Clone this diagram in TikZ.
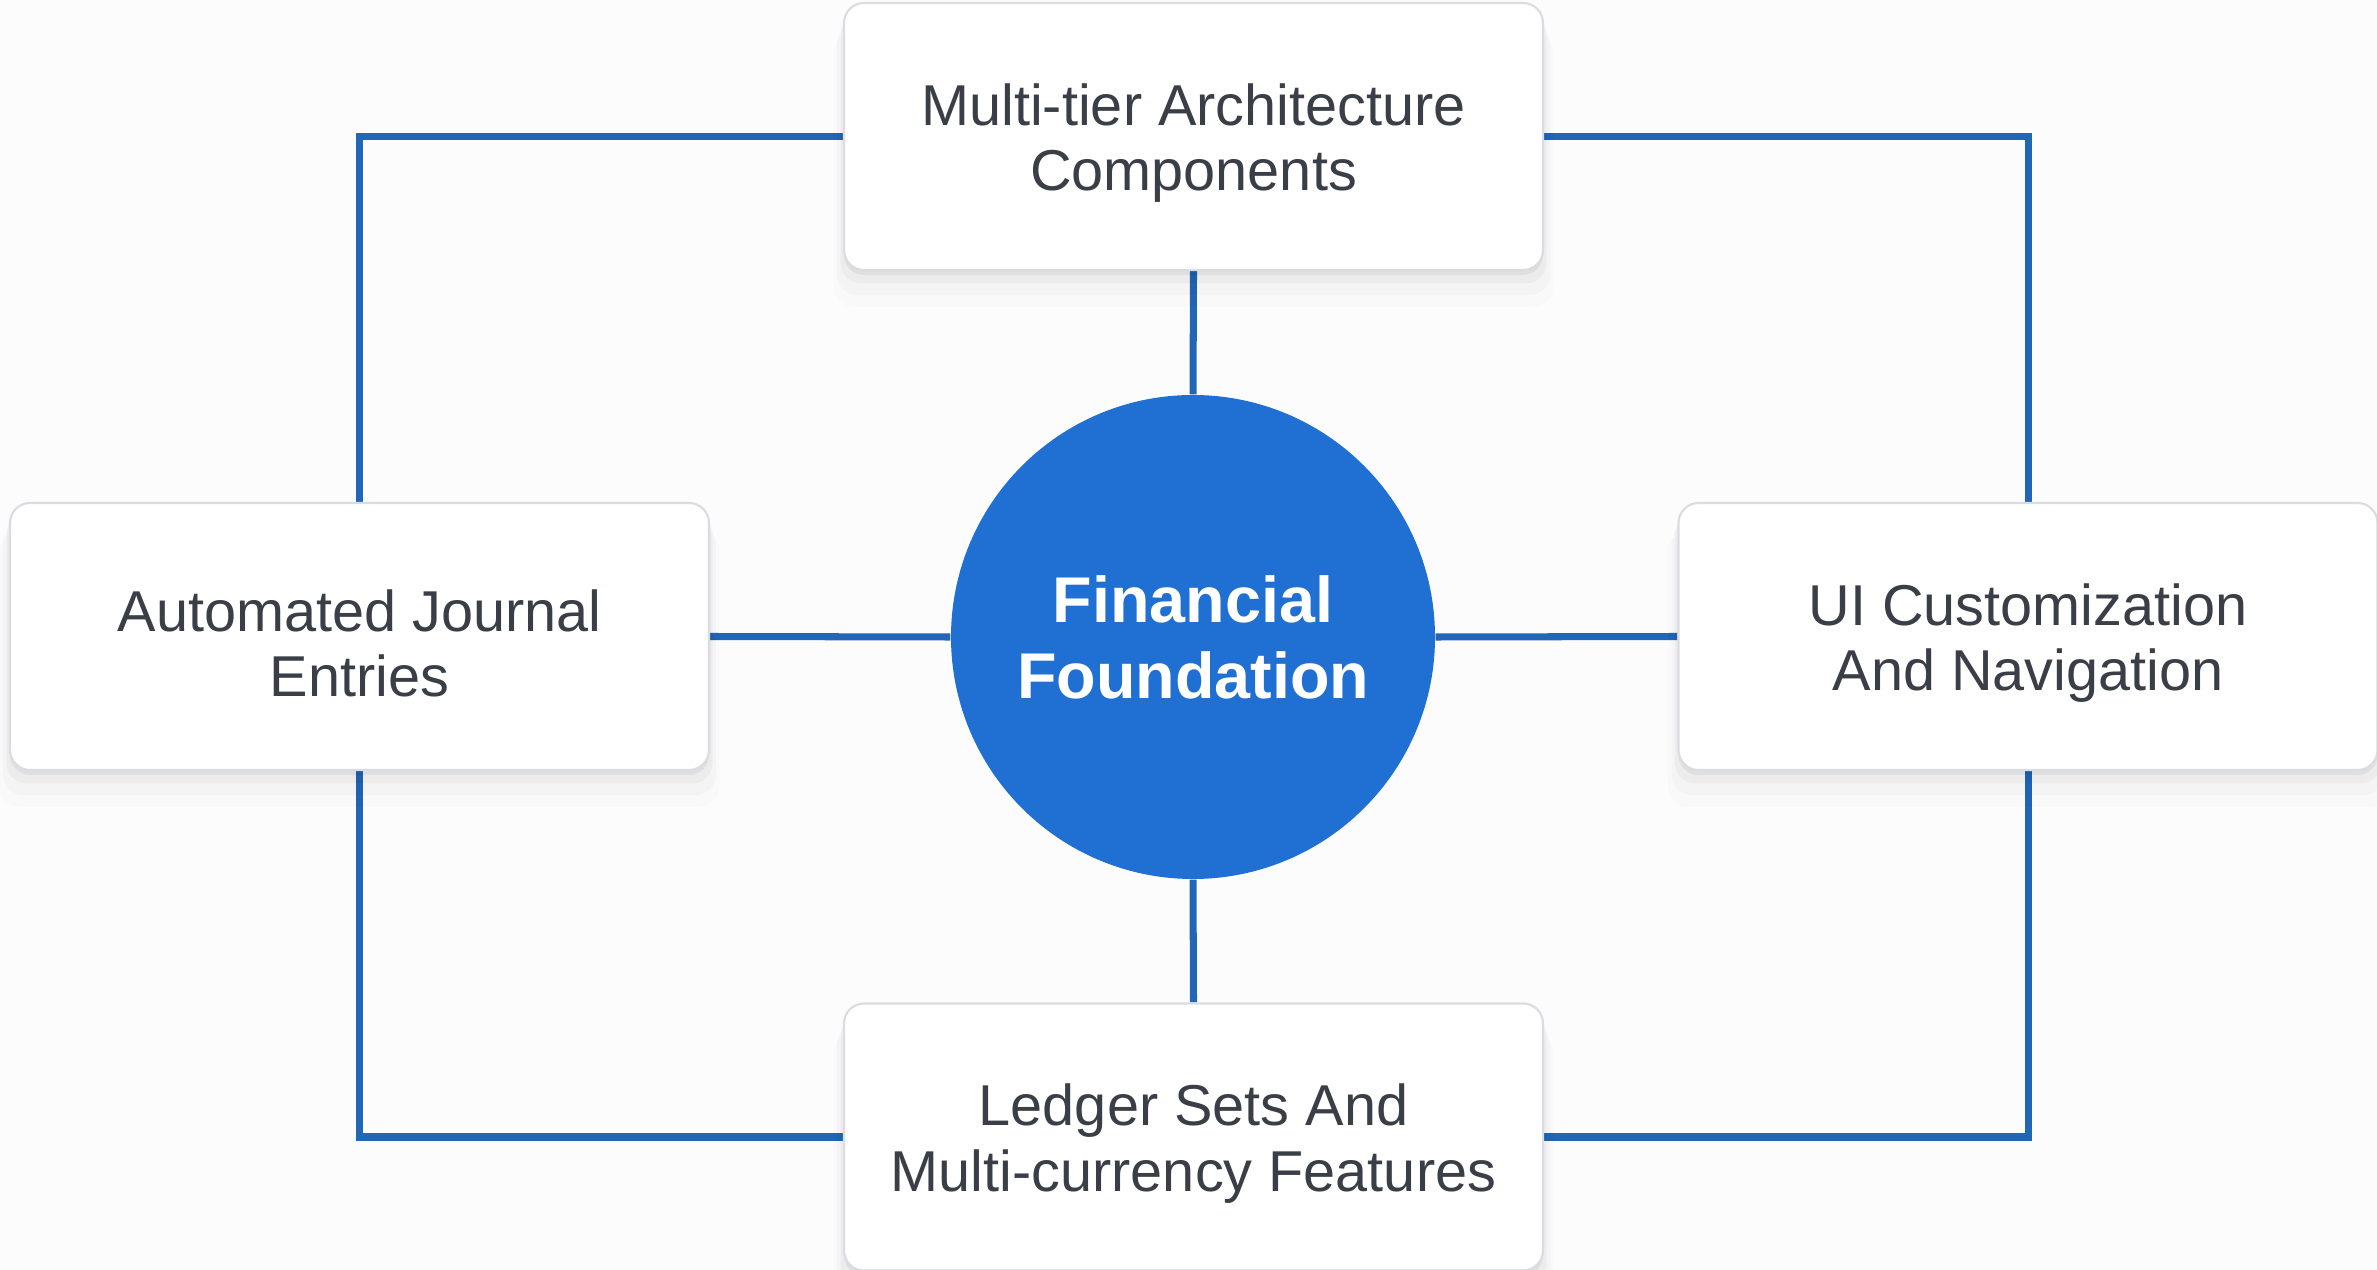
\documentclass[tikz,border=0pt]{standalone}
\usepackage{fontspec}
\setmainfont{Liberation Sans}
\usetikzlibrary{shadows}
\definecolor{bgc}{HTML}{FCFCFD}
\definecolor{linec}{HTML}{2266B8}
\definecolor{circc}{HTML}{1F70D2}
\definecolor{txtc}{HTML}{3A3F47}
\definecolor{boxline}{HTML}{D9DCE0}
\newcommand{\tstrut}{\rule{0pt}{5.5mm}}
\pgfdeclarelayer{backdrop}
\pgfdeclarelayer{wires}
\pgfsetlayers{backdrop,wires,main}
\tikzset{
  card/.style={rectangle, rounded corners=2mm, draw=boxline, line width=0.6pt, fill=white,
    minimum width=69.9mm, minimum height=26.7mm, align=center, text=txtc,
    font=\fontsize{16.4}{18.6}\selectfont,
    general shadow={shadow yshift=-3.2mm, shadow scale=1.03, fill=black, opacity=0.012},
    general shadow={shadow yshift=-2.2mm, shadow scale=1.02, fill=black, opacity=0.02},
    general shadow={shadow yshift=-1.2mm, shadow scale=1.01, fill=black, opacity=0.03},
    general shadow={shadow yshift=-0.5mm, fill=black, opacity=0.05}},
  hub/.style={circle, fill=circc, minimum size=48.4mm, inner sep=0pt, align=center,
    text=white, font=\fontsize{18.4}{21.6}\selectfont\bfseries},
  link/.style={draw=linec, line width=2pt}
}
\begin{document}
\begin{tikzpicture}[x=0.1mm, y=-0.1mm]
\begin{pgfonlayer}{backdrop}
\fill[bgc] (0,0) rectangle (2377,1270);
\end{pgfonlayer}
\clip (0,0) rectangle (2377,1270);
\node[hub] (hub) at (1193,637) {Financial\\Foundation};
\node[card] (top) at (1193.5,136.5) {\tstrut Multi-tier Architecture\\Components};
\node[card] (left) at (359.5,636.5) {\tstrut Automated Journal\\Entries};
\node[card] (right) at (2028,636.5) {\tstrut UI Customization\\And Navigation};
\node[card] (bot) at (1193.5,1137) {\tstrut Ledger Sets And\\Multi-currency Features};
\begin{pgfonlayer}{wires}
\draw[link] (top.south) -- (hub.north);
\draw[link] (hub.south) -- (bot.north);
\draw[link] (hub.west) -- (left.east);
\draw[link] (hub.east) -- (right.west);
\draw[link] (top.west) -| (left.north);
\draw[link] (left.south) |- (bot.west);
\draw[link] (bot.east) -| (right.south);
\draw[link] (right.north) |- (top.east);
\end{pgfonlayer}
\end{tikzpicture}
\end{document}
